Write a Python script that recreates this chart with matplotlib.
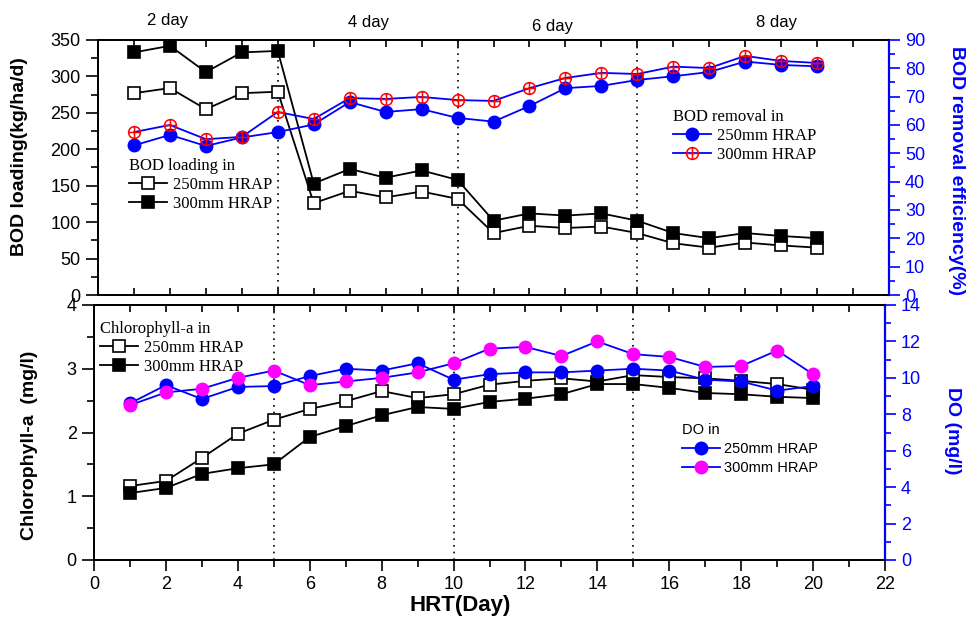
import matplotlib
matplotlib.use("Agg")
import matplotlib.pyplot as plt
from matplotlib.path import Path
from matplotlib.ticker import MultipleLocator

# --- DATA ---
days = list(range(1, 21))
bod_load_250 = [277, 284, 255, 277, 279, 126, 143, 134, 142, 132, 85, 95, 92, 94, 85, 71, 65, 72, 68, 65]
bod_load_300 = [333, 342, 306, 333, 335, 153, 173, 161, 171, 158, 102, 112, 109, 112, 102, 85, 78, 85, 81, 78]
bod_rem_250 = [52.8, 56.5, 52.6, 55.6, 57.5, 60.2, 68.1, 64.6, 65.6, 62.5,
               61.2, 66.7, 73.0, 73.8, 75.9, 77.2, 78.7, 82.4, 81.2, 80.7]
bod_rem_300 = [57.5, 60.0, 55.0, 55.8, 64.6, 62.1, 69.5, 69.2, 69.9, 68.8,
               68.5, 73.0, 76.6, 78.4, 78.0, 80.6, 80.1, 84.4, 82.6, 81.9]
chl_250 = [1.16, 1.24, 1.60, 1.98, 2.20, 2.37, 2.49, 2.65, 2.54, 2.60,
           2.75, 2.81, 2.85, 2.80, 2.90, 2.87, 2.85, 2.81, 2.76, 2.67]
chl_300 = [1.05, 1.13, 1.35, 1.44, 1.50, 1.93, 2.10, 2.27, 2.40, 2.37,
           2.48, 2.53, 2.60, 2.76, 2.76, 2.70, 2.62, 2.60, 2.56, 2.54]
do_250 = [8.6, 9.6, 8.84, 9.5, 9.55, 10.1, 10.5, 10.4, 10.8, 9.9,
          10.2, 10.3, 10.3, 10.4, 10.5, 10.4, 9.9, 9.8, 9.3, 9.55]
do_300 = [8.5, 9.2, 9.4, 10.0, 10.4, 9.6, 9.8, 10.0, 10.3, 10.8,
          11.6, 11.7, 11.2, 12.0, 11.3, 11.15, 10.6, 10.65, 11.5, 10.2]
hrt_breaks = [5, 10, 15]
hrt_labels = ["2 day", "4 day", "6 day", "8 day"]

plt.rcParams["font.family"] = "Liberation Sans"
W, H = 966, 619
BLUE = "#0000ff"

# circle with a cross inside (the red "⊕" marker)
oplus = Path.make_compound_path(
    Path.unit_circle(),
    Path([[-1, 0], [1, 0], [0, -1], [0, 1]],
         [Path.MOVETO, Path.LINETO, Path.MOVETO, Path.LINETO]))


def fx(x):
    return x / W


def fy(y):
    return 1 - y / H


fig = plt.figure(figsize=(W / 100, H / 100), dpi=100)
ax1 = fig.add_axes([fx(98), fy(295), 791 / W, 255 / H])
ax1r = ax1.twinx()
ax2 = fig.add_axes([fx(94), fy(560), 791 / W, 255 / H])
ax2r = ax2.twinx()

serif = {"family": "Liberation Serif", "size": 12}
sq = dict(marker="s", ms=8.5, mew=1.2, color="black", lw=1.3)
ci = dict(marker="o", ms=9, lw=1.3, color=BLUE)
leg_kw = dict(loc="upper left", bbox_transform=fig.transFigure, frameon=False,
              alignment="left", borderpad=0, borderaxespad=0)

# --- TOP PANEL ---
for b in hrt_breaks:
    ax1.axvline(b, color="black", ls=(0, (1, 3)), lw=1.2)
l1, = ax1.plot(days, bod_load_250, mfc="white", mec="black", label="250mm HRAP", **sq)
l2, = ax1.plot(days, bod_load_300, mfc="black", mec="black", label="300mm HRAP", **sq)
r1, = ax1r.plot(days, bod_rem_250, mfc=BLUE, mec=BLUE, label="250mm HRAP", **ci)
r2, = ax1r.plot(days, bod_rem_300, marker=oplus, ms=8.5, mfc="none", mec="red", mew=1.1,
                color=BLUE, lw=1.3, label="300mm HRAP")

ax1.set_xlim(0, 22)
ax1.set_ylim(0, 350)
ax1r.set_ylim(0, 90)
ax1.xaxis.set_major_locator(MultipleLocator(1))
ax1.tick_params(axis="x", direction="in", top=True, bottom=True, labelbottom=False,
                length=5, width=1.2)
ax1.yaxis.set_major_locator(MultipleLocator(50))
ax1.yaxis.set_minor_locator(MultipleLocator(25))
ax1.tick_params(axis="y", which="major", direction="out", length=9, width=1.2, labelsize=13)
ax1.tick_params(axis="y", which="minor", direction="out", length=5, width=1.2)
ax1r.yaxis.set_major_locator(MultipleLocator(10))
ax1r.yaxis.set_minor_locator(MultipleLocator(5))
ax1r.tick_params(axis="y", which="major", direction="out", length=8, width=1.2,
                 labelsize=13, colors=BLUE)
ax1r.tick_params(axis="y", which="minor", direction="out", length=4, width=1.2, colors=BLUE)

ax1.legend(handles=[l1, l2], title="BOD loading in", bbox_to_anchor=(fx(129), fy(158)),
           prop=serif, title_fontproperties=serif, handlelength=2.3, handletextpad=0.35,
           labelspacing=0.17, **leg_kw)
ax1r.legend(handles=[r1, r2], title="BOD removal in", bbox_to_anchor=(fx(673), fy(109)),
            prop=serif, title_fontproperties=serif, handlelength=2.3, handletextpad=0.35,
            labelspacing=0.17, **leg_kw)

# --- BOTTOM PANEL ---
for b in hrt_breaks:
    ax2.axvline(b, color="black", ls=(0, (1, 3)), lw=1.2)
c1, = ax2.plot(days, chl_250, mfc="white", mec="black", label="250mm HRAP", **sq)
c2, = ax2.plot(days, chl_300, mfc="black", mec="black", label="300mm HRAP", **sq)
d1, = ax2r.plot(days, do_250, mfc=BLUE, mec=BLUE, label="250mm HRAP", **ci)
d2, = ax2r.plot(days, do_300, marker="o", ms=9, mfc="#ff00ff", mec="#ff00ff",
                color=BLUE, lw=1.3, label="300mm HRAP")

ax2.set_xlim(0, 22)
ax2.set_ylim(0, 4)
ax2r.set_ylim(0, 14)
ax2.xaxis.set_major_locator(MultipleLocator(2))
ax2.xaxis.set_minor_locator(MultipleLocator(1))
ax2.tick_params(axis="x", which="major", direction="out", length=8, width=1.2, labelsize=13)
ax2.tick_params(axis="x", which="minor", direction="out", length=5, width=1.2)
top = ax2.secondary_xaxis("top")
top.set_xticks(range(0, 23))
top.tick_params(direction="in", length=5, width=1.2, labeltop=False)
ax2.yaxis.set_major_locator(MultipleLocator(1))
ax2.yaxis.set_minor_locator(MultipleLocator(0.5))
ax2.tick_params(axis="y", which="major", direction="out", length=9, width=1.2, labelsize=13)
ax2.tick_params(axis="y", which="minor", direction="out", length=5, width=1.2)
ax2r.yaxis.set_major_locator(MultipleLocator(2))
ax2r.yaxis.set_minor_locator(MultipleLocator(1))
ax2r.tick_params(axis="y", which="major", direction="out", length=8, width=1.2,
                 labelsize=13, colors=BLUE)
ax2r.tick_params(axis="y", which="minor", direction="out", length=4, width=1.2, colors=BLUE)

ax2.legend(handles=[c1, c2], title="Chlorophyll-a in", bbox_to_anchor=(fx(100), fy(321)),
           prop=serif, title_fontproperties=serif, handlelength=2.3, handletextpad=0.35,
           labelspacing=0.17, **leg_kw)
sans = {"family": "Liberation Sans", "size": 10.5}
ax2r.legend(handles=[d1, d2], title="DO in", bbox_to_anchor=(fx(682), fy(423)),
            prop=sans, title_fontproperties=sans, handlelength=2.6, handletextpad=0.3,
            labelspacing=0.35, **leg_kw)

# spines
for a in (ax1, ax1r, ax2, ax2r):
    for s in a.spines.values():
        s.set_linewidth(1.3)
for a in (ax1r, ax2r):
    a.spines["right"].set_color(BLUE)
    a.spines["right"].set_linewidth(1.6)
top.spines["top"].set_linewidth(1.3)

# labels
fig.text(fx(20), fy(157), "BOD loading(kg/ha/d)", rotation=90, ha="center", va="center",
         fontsize=14, fontweight="bold")
fig.text(fx(30), fy(445), "Chlorophyll-a  (mg/l)", rotation=90, ha="center", va="center",
         fontsize=14, fontweight="bold")
fig.text(fx(956), fy(171), "BOD removal efficiency(%)", rotation=270, ha="center",
         va="center", fontsize=14, fontweight="bold", color=BLUE)
fig.text(fx(952), fy(431), "DO (mg/l)", rotation=270, ha="center", va="center",
         fontsize=14, fontweight="bold", color=BLUE)
fig.text(fx(460), fy(606), "HRT(Day)", ha="center", va="center", fontsize=16,
         fontweight="bold")
for lab, (x, y) in zip(hrt_labels, [(168, 20), (368, 22), (552, 27), (776, 22)]):
    fig.text(fx(x), fy(y), lab, ha="center", va="center", fontsize=12)

fig.savefig("out.png", dpi=100)
